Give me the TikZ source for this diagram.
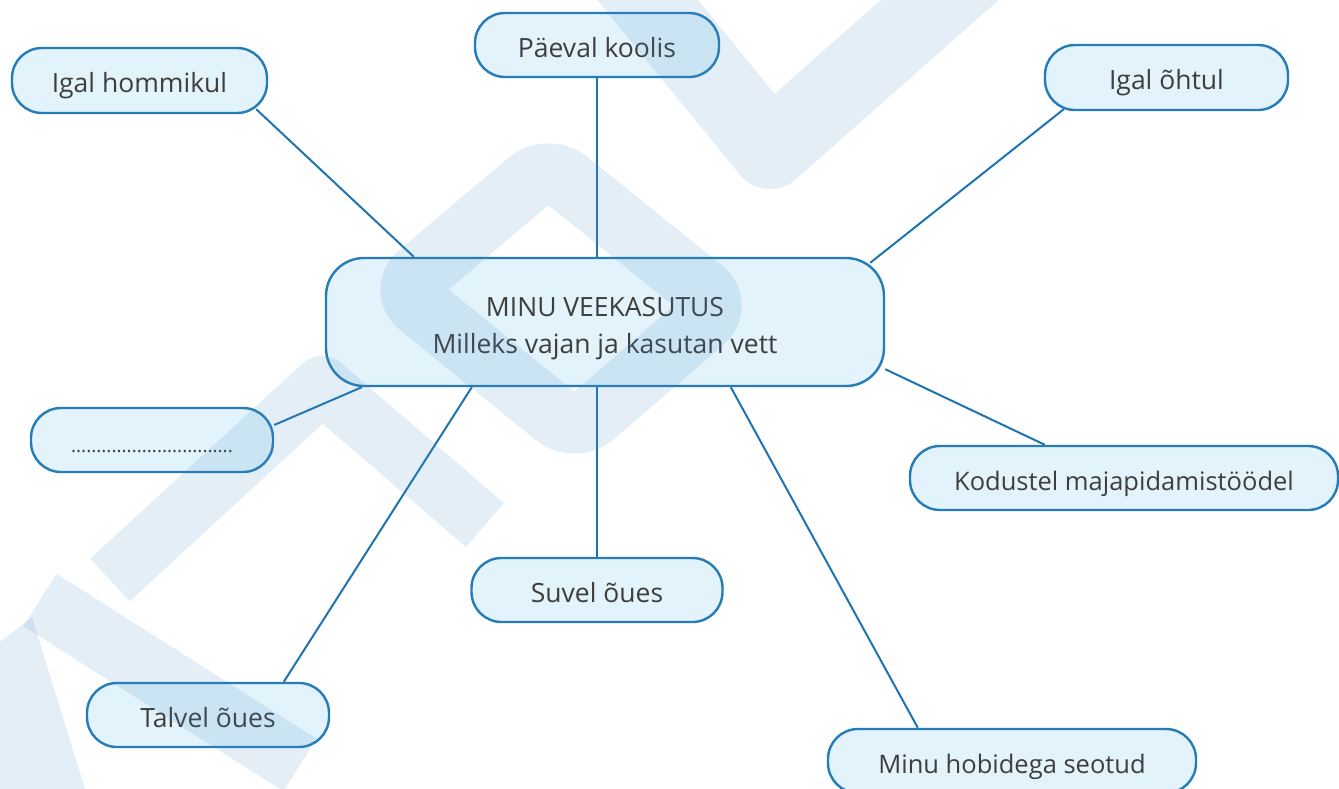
\documentclass[tikz,border=0pt]{standalone}
\usepackage{fontspec}
\setmainfont{Open Sans}
\usetikzlibrary{calc}
\definecolor{boxline}{RGB}{36,124,184}
\definecolor{boxfill}{RGB}{226,243,251}
\definecolor{conn}{RGB}{30,116,176}
\definecolor{txt}{RGB}{62,62,62}
\definecolor{wm}{RGB}{70,140,200}
\tikzset{
  bubble/.style={draw=boxline, line width=2.4pt, fill=boxfill, rounded corners=30pt,
    inner sep=0pt, align=center, text=txt, text height=32pt, text depth=7pt,
    font=\fontsize{26.5}{31}\selectfont},
  hub/.style={draw=boxline, line width=2.4pt, fill=boxfill, rounded corners=38pt,
    inner sep=0pt, align=center, text=txt, font=\fontsize{26.5}{37}\selectfont},
  link/.style={draw=conn, line width=2pt},
  wmark/.style={draw=wm, draw opacity=0.14, line width=#1, line join=round},
}
\begin{document}
\begin{tikzpicture}[x=1pt,y=-1pt]
\useasboundingbox (0,0) rectangle (1339,789);
\clip (0,0) rectangle (1339,789);
\fill[white] (0,0) rectangle (1339,789);

% nodes
\node[bubble, minimum width=255pt, minimum height=65pt] (hom) at (139.5,80.5) {Igal hommikul};
\node[bubble, minimum width=244pt, minimum height=64pt] (pae) at (597,45) {Päeval koolis};
\node[bubble, minimum width=243pt, minimum height=65pt] (oht) at (1166.5,77.5) {Igal õhtul};
\node[hub, minimum width=558pt, minimum height=128pt] (mid) at (605,322) {\rule{0pt}{33pt}MINU VEEKASUTUS\\Milleks vajan ja kasutan vett};
\node[bubble, minimum width=242pt, minimum height=64pt, font=\fontsize{19}{20}\selectfont] (dot) at (152,440) {................................};
\node[bubble, minimum width=428pt, minimum height=64pt, font=\fontsize{25.5}{31}\selectfont] (kod) at (1124,478) {Kodustel majapidamistöödel};
\node[bubble, minimum width=251pt, minimum height=64pt] (suv) at (597,590) {Suvel õues};
\node[bubble, minimum width=242pt, minimum height=64pt] (tal) at (208,715) {Talvel õues};
\node[bubble, minimum width=368pt, minimum height=64pt, font=\fontsize{25.5}{31}\selectfont] (hob) at (1012,761) {Minu hobidega seotud};

% connectors
\draw[link] ([xshift=-12pt,yshift=5pt]hom.south east) -- ([xshift=89pt]mid.north west);
\draw[link] (pae.south) -- (pae.south |- mid.north);
\draw[link] ([xshift=20pt,yshift=2pt]oht.south west) -- ([xshift=-15pt,yshift=-6pt]mid.north east);
\draw[link] ([yshift=18pt]mid.south east) -- ([xshift=136pt]kod.north west);
\draw[link] ([xshift=37pt]mid.south west) -- ([yshift=15pt]dot.east);
\draw[link] ([xshift=147pt]mid.south west) -- ([xshift=198pt]tal.north west);
\draw[link] (suv.north) -- (suv.north |- mid.south);
\draw[link] ([xshift=406pt]mid.south west) -- ([xshift=91pt]hob.north west);

% watermark (translucent logo bands)
\draw[wmark=78pt] (615,-40) -- (770,150) -- (985,-40);
\draw[wmark=62pt, rounded corners=25pt] (400,290) -- (548,165) -- (722,305) -- (575,432) -- cycle;
\draw[wmark=58pt] (110,580) -- (322,385) -- (485,525);
\draw[wmark=62pt] (40,600) -- (300,765);
\fill[wm, fill opacity=0.14] (0,642) -- (32,617) -- (85,789) -- (0,789) -- cycle;
\end{tikzpicture}
\end{document}
